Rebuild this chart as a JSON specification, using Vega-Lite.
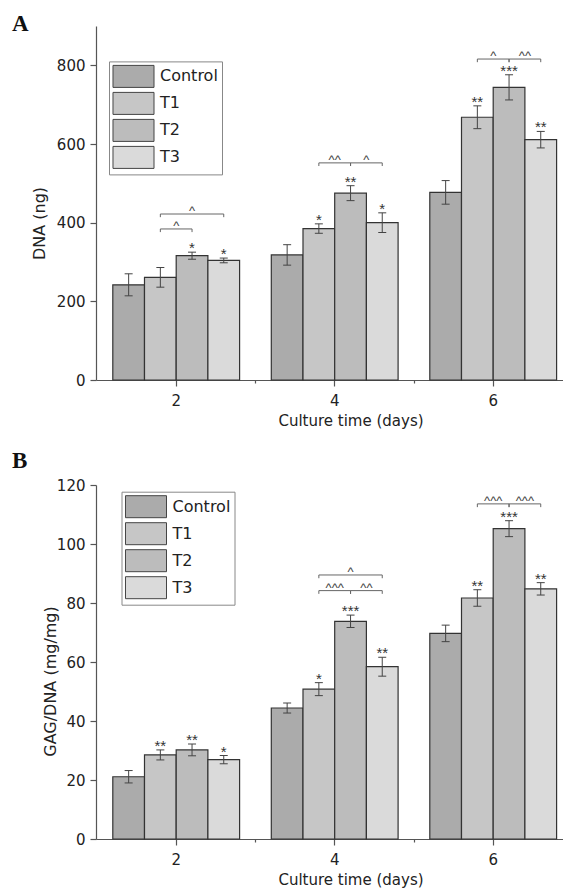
{
  "$schema": "https://vega.github.io/schema/vega-lite/v6.json",
  "padding": {"left": 12, "top": 13, "right": 0, "bottom": 0},
  "background": "white",
  "spacing": 20,
  "resolve": {"scale": {"y": "independent", "x": "independent", "xOffset": "independent", "fill": "independent"}, "legend": {"fill": "independent"}},
  "config": {
    "view": {"stroke": null},
    "font": "DejaVu Sans",
    "axis": {"domainColor": "#555", "tickColor": "#555", "labelColor": "#222", "titleColor": "#222", "labelFont": "DejaVu Sans", "titleFont": "DejaVu Sans", "labelFontSize": 15, "titleFontWeight": "normal", "grid": false, "domainWidth": 1.2, "tickWidth": 1.2}
  },
  "datasets": {
    "barsA": [
      {"day": 2, "grp": "Control", "mean": 242, "lo": 214, "hi": 270, "sig": ""},
      {"day": 2, "grp": "T1", "mean": 261, "lo": 236, "hi": 286, "sig": ""},
      {"day": 2, "grp": "T2", "mean": 316, "lo": 307, "hi": 325, "sig": "*"},
      {"day": 2, "grp": "T3", "mean": 304, "lo": 298, "hi": 310, "sig": "*"},
      {"day": 4, "grp": "Control", "mean": 318, "lo": 292, "hi": 344, "sig": ""},
      {"day": 4, "grp": "T1", "mean": 385, "lo": 373, "hi": 397, "sig": "*"},
      {"day": 4, "grp": "T2", "mean": 475, "lo": 456, "hi": 494, "sig": "**"},
      {"day": 4, "grp": "T3", "mean": 400, "lo": 375, "hi": 425, "sig": "*"},
      {"day": 6, "grp": "Control", "mean": 477, "lo": 447, "hi": 507, "sig": ""},
      {"day": 6, "grp": "T1", "mean": 668, "lo": 639, "hi": 697, "sig": "**"},
      {"day": 6, "grp": "T2", "mean": 744, "lo": 712, "hi": 776, "sig": "***"},
      {"day": 6, "grp": "T3", "mean": 611, "lo": 590, "hi": 632, "sig": "**"}
    ],
    "barsB": [
      {"day": 2, "grp": "Control", "mean": 21.1, "lo": 19.0, "hi": 23.2, "sig": ""},
      {"day": 2, "grp": "T1", "mean": 28.5, "lo": 26.8, "hi": 30.2, "sig": "**"},
      {"day": 2, "grp": "T2", "mean": 30.2, "lo": 28.2, "hi": 32.2, "sig": "**"},
      {"day": 2, "grp": "T3", "mean": 26.9, "lo": 25.5, "hi": 28.3, "sig": "*"},
      {"day": 4, "grp": "Control", "mean": 44.4, "lo": 42.7, "hi": 46.1, "sig": ""},
      {"day": 4, "grp": "T1", "mean": 50.8, "lo": 48.6, "hi": 53.0, "sig": "*"},
      {"day": 4, "grp": "T2", "mean": 73.8, "lo": 71.7, "hi": 75.9, "sig": "***"},
      {"day": 4, "grp": "T3", "mean": 58.4, "lo": 55.2, "hi": 61.6, "sig": "**"},
      {"day": 6, "grp": "Control", "mean": 69.7, "lo": 66.9, "hi": 72.5, "sig": ""},
      {"day": 6, "grp": "T1", "mean": 81.7, "lo": 78.9, "hi": 84.5, "sig": "**"},
      {"day": 6, "grp": "T2", "mean": 105.2, "lo": 102.5, "hi": 107.9, "sig": "***"},
      {"day": 6, "grp": "T3", "mean": 84.8, "lo": 82.7, "hi": 86.9, "sig": "**"}
    ],
    "brA": [
      {"id": "a1", "day": 2, "grp": "T1", "y": 384, "yd": 376},
      {"id": "a1", "day": 2, "grp": "T2", "y": 384, "yd": 376},
      {"id": "a2", "day": 2, "grp": "T1", "y": 422, "yd": 414},
      {"id": "a2", "day": 2, "grp": "T3", "y": 422, "yd": 414},
      {"id": "a3", "day": 4, "grp": "T1", "y": 552, "yd": 544},
      {"id": "a3", "day": 4, "grp": "T2", "y": 552, "yd": 544},
      {"id": "a4", "day": 4, "grp": "T2", "y": 552, "yd": 544},
      {"id": "a4", "day": 4, "grp": "T3", "y": 552, "yd": 544},
      {"id": "a5", "day": 6, "grp": "T1", "y": 816, "yd": 808},
      {"id": "a5", "day": 6, "grp": "T2", "y": 816, "yd": 808},
      {"id": "a6", "day": 6, "grp": "T2", "y": 816, "yd": 808},
      {"id": "a6", "day": 6, "grp": "T3", "y": 816, "yd": 808}
    ],
    "labA": [
      {"day": 2, "from": "T1", "to": "T2", "y": 384, "label": "^"},
      {"day": 2, "from": "T1", "to": "T3", "y": 422, "label": "^"},
      {"day": 4, "from": "T1", "to": "T2", "y": 552, "label": "^^"},
      {"day": 4, "from": "T2", "to": "T3", "y": 552, "label": "^"},
      {"day": 6, "from": "T1", "to": "T2", "y": 816, "label": "^"},
      {"day": 6, "from": "T2", "to": "T3", "y": 816, "label": "^^"}
    ],
    "brB": [
      {"id": "b1", "day": 4, "grp": "T1", "y": 89.5, "yd": 88.4},
      {"id": "b1", "day": 4, "grp": "T3", "y": 89.5, "yd": 88.4},
      {"id": "b2", "day": 4, "grp": "T1", "y": 84.2, "yd": 83.1},
      {"id": "b2", "day": 4, "grp": "T2", "y": 84.2, "yd": 83.1},
      {"id": "b3", "day": 4, "grp": "T2", "y": 84.2, "yd": 83.1},
      {"id": "b3", "day": 4, "grp": "T3", "y": 84.2, "yd": 83.1},
      {"id": "b4", "day": 6, "grp": "T1", "y": 113.6, "yd": 112.5},
      {"id": "b4", "day": 6, "grp": "T2", "y": 113.6, "yd": 112.5},
      {"id": "b5", "day": 6, "grp": "T2", "y": 113.6, "yd": 112.5},
      {"id": "b5", "day": 6, "grp": "T3", "y": 113.6, "yd": 112.5}
    ],
    "labB": [
      {"day": 4, "from": "T1", "to": "T3", "y": 89.5, "label": "^"},
      {"day": 4, "from": "T1", "to": "T2", "y": 84.2, "label": "^^^"},
      {"day": 4, "from": "T2", "to": "T3", "y": 84.2, "label": "^^"},
      {"day": 6, "from": "T1", "to": "T2", "y": 113.6, "label": "^^^"},
      {"day": 6, "from": "T2", "to": "T3", "y": 113.6, "label": "^^^"}
    ]
  },
  "vconcat": [
    {
      "width": 466.5,
      "height": 354,
      "title": {"text": "A", "anchor": "start", "frame": "group", "orient": "top", "dx": -84, "dy": 23, "offset": -5, "baseline": "alphabetic", "font": "Liberation Serif", "fontSize": 23, "fontWeight": "bold", "color": "#111"},
      "resolve": {"axis": {"x": "independent"}},
      "encoding": {
        "x": {"field": "day", "type": "ordinal", "scale": {"type": "band", "domain": [2, 4, 6], "paddingInner": 0.2, "paddingOuter": 0.0716, "align": 0.74}, "axis": null},
        "xOffset": {"field": "grp", "type": "nominal", "scale": {"type": "band", "domain": ["Control", "T1", "T2", "T3"], "paddingInner": 0, "paddingOuter": 0}}
      },
      "layer": [
        {
          "data": {"name": "barsA"},
          "mark": {"type": "bar", "stroke": "#333", "strokeWidth": 1.2},
          "encoding": {
            "x": {"field": "day", "type": "ordinal", "axis": {"orient": "bottom", "title": "Culture time (days)", "titleFontSize": 15, "labelAngle": 0, "tickSize": 6, "labelPadding": 7, "titleX": 254.5, "titleY": 45.5, "titleAlign": "center", "titleBaseline": "alphabetic"}},
            "y": {"field": "mean", "type": "quantitative", "stack": null, "scale": {"domain": [0, 900], "nice": false},
              "axis": {"values": [0, 100, 200, 300, 400, 500, 600, 700, 800, 900], "title": "DNA (ng)", "titleFontSize": 16, "labelExpr": "datum.value % 200 == 0 ? datum.label : ''", "tickSize": {"condition": {"test": "datum.value % 200 == 0", "value": 6}, "value": 3}, "labelPadding": 5, "titleX": -52, "titleY": 197, "titleAngle": 270, "titleAlign": "center", "titleBaseline": "alphabetic"}},
            "fill": {"field": "grp", "type": "nominal", "scale": {"domain": ["Control", "T1", "T2", "T3"], "range": ["#ababab", "#c6c6c6", "#bcbcbc", "#dadada"]},
              "legend": {"title": null, "orient": "none", "legendX": 13, "legendY": 35.4, "symbolType": "M-1.864,-1H1.864V1H-1.864Z", "symbolSize": 484, "symbolOffset": 9.5, "symbolStrokeColor": "#444", "symbolStrokeWidth": 1, "symbolOpacity": 1, "labelFontSize": 16, "labelFont": "DejaVu Sans", "labelColor": "#222", "strokeColor": "#888", "fillColor": "white", "padding": 3.5, "rowPadding": 0, "labelOffset": 15}}
          }
        },
        {
          "data": {"name": "barsA"},
          "mark": {"type": "rule", "color": "#444", "strokeWidth": 1},
          "encoding": {
            "x": {"field": "day", "type": "ordinal", "axis": {"orient": "bottom", "values": [4, 6], "tickOffset": -79.25, "labels": false, "domain": false, "tickSize": 3, "title": null}},
            "y": {"field": "lo", "type": "quantitative"}, "y2": {"field": "hi"}}
        },
        {
          "data": {"name": "barsA"},
          "mark": {"type": "point", "shape": "M-1,0H1", "size": 64, "filled": false, "color": "#444", "strokeWidth": 1, "opacity": 1},
          "encoding": {"y": {"field": "hi", "type": "quantitative"}}
        },
        {
          "data": {"name": "barsA"},
          "mark": {"type": "point", "shape": "M-1,0H1", "size": 64, "filled": false, "color": "#444", "strokeWidth": 1, "opacity": 1},
          "encoding": {"y": {"field": "lo", "type": "quantitative"}}
        },
        {
          "data": {"name": "barsA"},
          "mark": {"type": "text", "baseline": "alphabetic", "align": "center", "font": "Liberation Sans", "fontSize": 15, "color": "#333", "dy": 1},
          "encoding": {"y": {"field": "hi", "type": "quantitative"}, "text": {"field": "sig"}}
        },
        {
          "data": {"name": "brA"},
          "mark": {"type": "line", "color": "#666", "strokeWidth": 1},
          "encoding": {"y": {"field": "y", "type": "quantitative"}, "detail": {"field": "id"}}
        },
        {
          "data": {"name": "brA"},
          "mark": {"type": "rule", "color": "#666", "strokeWidth": 1},
          "encoding": {"y": {"field": "y", "type": "quantitative"}, "y2": {"field": "yd"}}
        },
        {
          "data": {"name": "labA"},
          "transform": [{"filter": "indexof(['Control','T1','T2','T3'], datum.to) - indexof(['Control','T1','T2','T3'], datum.from) == 1"}],
          "mark": {"type": "text", "baseline": "alphabetic", "align": "center", "font": "Liberation Sans", "fontSize": 13, "color": "#444", "dx": 15.85, "dy": 1},
          "encoding": {"xOffset": {"field": "from", "type": "nominal"}, "y": {"field": "y", "type": "quantitative"}, "text": {"field": "label"}}
        },
        {
          "data": {"name": "labA"},
          "transform": [{"filter": "indexof(['Control','T1','T2','T3'], datum.to) - indexof(['Control','T1','T2','T3'], datum.from) == 2"}],
          "mark": {"type": "text", "baseline": "alphabetic", "align": "center", "font": "Liberation Sans", "fontSize": 13, "color": "#444", "dx": -31.7, "dy": 1},
          "encoding": {"xOffset": {"field": "to", "type": "nominal"}, "y": {"field": "y", "type": "quantitative"}, "text": {"field": "label"}}
        }
      ]
    },
    {
      "width": 466.5,
      "height": 354,
      "title": {"text": "B", "anchor": "start", "frame": "group", "orient": "top", "dx": -84, "dy": 28.7, "offset": 16, "baseline": "alphabetic", "font": "Liberation Serif", "fontSize": 23, "fontWeight": "bold", "color": "#111"},
      "resolve": {"axis": {"x": "independent"}},
      "encoding": {
        "x": {"field": "day", "type": "ordinal", "scale": {"type": "band", "domain": [2, 4, 6], "paddingInner": 0.2, "paddingOuter": 0.0716, "align": 0.74}, "axis": null},
        "xOffset": {"field": "grp", "type": "nominal", "scale": {"type": "band", "domain": ["Control", "T1", "T2", "T3"], "paddingInner": 0, "paddingOuter": 0}}
      },
      "layer": [
        {
          "data": {"name": "barsB"},
          "mark": {"type": "bar", "stroke": "#333", "strokeWidth": 1.2},
          "encoding": {
            "x": {"field": "day", "type": "ordinal", "axis": {"orient": "bottom", "title": "Culture time (days)", "titleFontSize": 15, "labelAngle": 0, "tickSize": 6, "labelPadding": 7, "titleX": 254.5, "titleY": 45.5, "titleAlign": "center", "titleBaseline": "alphabetic"}},
            "y": {"field": "mean", "type": "quantitative", "stack": null, "scale": {"domain": [0, 120], "nice": false},
              "axis": {"values": [0, 10, 20, 30, 40, 50, 60, 70, 80, 90, 100, 110, 120], "title": "GAG/DNA (mg/mg)", "titleFontSize": 16, "labelExpr": "datum.value % 20 == 0 ? datum.label : ''", "tickSize": {"condition": {"test": "datum.value % 20 == 0", "value": 6}, "value": 3}, "labelPadding": 5, "titleX": -41, "titleY": 196, "titleAngle": 270, "titleAlign": "center", "titleBaseline": "alphabetic"}},
            "fill": {"field": "grp", "type": "nominal", "scale": {"domain": ["Control", "T1", "T2", "T3"], "range": ["#ababab", "#c6c6c6", "#bcbcbc", "#dadada"]},
              "legend": {"title": null, "orient": "none", "legendX": 25.5, "legendY": 6.7, "symbolType": "M-1.864,-1H1.864V1H-1.864Z", "symbolSize": 484, "symbolOffset": 9.5, "symbolStrokeColor": "#444", "symbolStrokeWidth": 1, "symbolOpacity": 1, "labelFontSize": 16, "labelFont": "DejaVu Sans", "labelColor": "#222", "strokeColor": "#888", "fillColor": "white", "padding": 3.5, "rowPadding": 0, "labelOffset": 15}}
          }
        },
        {
          "data": {"name": "barsB"},
          "mark": {"type": "rule", "color": "#444", "strokeWidth": 1},
          "encoding": {
            "x": {"field": "day", "type": "ordinal", "axis": {"orient": "bottom", "values": [4, 6], "tickOffset": -79.25, "labels": false, "domain": false, "tickSize": 3, "title": null}},
            "y": {"field": "lo", "type": "quantitative"}, "y2": {"field": "hi"}}
        },
        {
          "data": {"name": "barsB"},
          "mark": {"type": "point", "shape": "M-1,0H1", "size": 64, "filled": false, "color": "#444", "strokeWidth": 1, "opacity": 1},
          "encoding": {"y": {"field": "hi", "type": "quantitative"}}
        },
        {
          "data": {"name": "barsB"},
          "mark": {"type": "point", "shape": "M-1,0H1", "size": 64, "filled": false, "color": "#444", "strokeWidth": 1, "opacity": 1},
          "encoding": {"y": {"field": "lo", "type": "quantitative"}}
        },
        {
          "data": {"name": "barsB"},
          "mark": {"type": "text", "baseline": "alphabetic", "align": "center", "font": "Liberation Sans", "fontSize": 15, "color": "#333", "dy": 1},
          "encoding": {"y": {"field": "hi", "type": "quantitative"}, "text": {"field": "sig"}}
        },
        {
          "data": {"name": "brB"},
          "mark": {"type": "line", "color": "#666", "strokeWidth": 1},
          "encoding": {"y": {"field": "y", "type": "quantitative"}, "detail": {"field": "id"}}
        },
        {
          "data": {"name": "brB"},
          "mark": {"type": "rule", "color": "#666", "strokeWidth": 1},
          "encoding": {"y": {"field": "y", "type": "quantitative"}, "y2": {"field": "yd"}}
        },
        {
          "data": {"name": "labB"},
          "transform": [{"filter": "indexof(['Control','T1','T2','T3'], datum.to) - indexof(['Control','T1','T2','T3'], datum.from) == 1"}],
          "mark": {"type": "text", "baseline": "alphabetic", "align": "center", "font": "Liberation Sans", "fontSize": 13, "color": "#444", "dx": 15.85, "dy": 1},
          "encoding": {"xOffset": {"field": "from", "type": "nominal"}, "y": {"field": "y", "type": "quantitative"}, "text": {"field": "label"}}
        },
        {
          "data": {"name": "labB"},
          "transform": [{"filter": "indexof(['Control','T1','T2','T3'], datum.to) - indexof(['Control','T1','T2','T3'], datum.from) == 2"}],
          "mark": {"type": "text", "baseline": "alphabetic", "align": "center", "font": "Liberation Sans", "fontSize": 13, "color": "#444", "dx": -31.7, "dy": 1},
          "encoding": {"xOffset": {"field": "to", "type": "nominal"}, "y": {"field": "y", "type": "quantitative"}, "text": {"field": "label"}}
        }
      ]
    }
  ]
}
